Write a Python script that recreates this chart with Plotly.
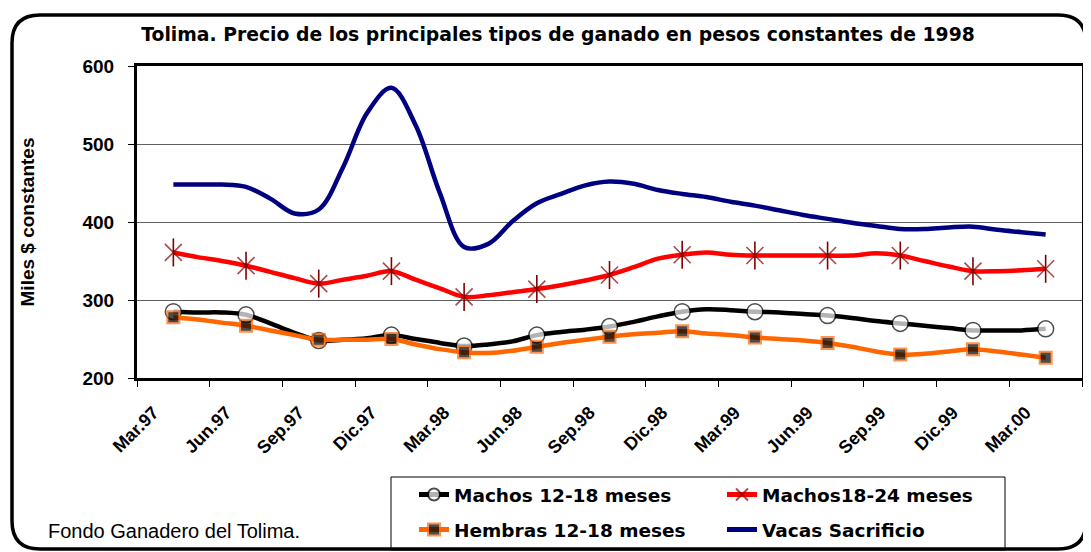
import plotly.graph_objects as go

# ---------------- data (monthly, Mar.97 = index 0 ... Mar.00 = index 36) ----------------
months = list(range(37))
quarter_labels = ["Mar.97", "Jun.97", "Sep.97", "Dic.97", "Mar.98", "Jun.98", "Sep.98",
                  "Dic.98", "Mar.99", "Jun.99", "Sep.99", "Dic.99", "Mar.00"]

machos_12_18 = [285, 284, 284, 281, 270, 258, 248, 249, 251, 255, 250, 245, 241, 243, 247, 255,
                259, 262, 266, 272, 279, 285, 288, 287, 285, 284, 282, 280, 277, 273, 270, 267,
                264, 261, 261, 261, 263]
machos_18_24 = [361, 355, 350, 344, 336, 328, 321, 326, 331, 337, 326, 315, 304, 306, 310, 314,
                319, 325, 332, 342, 353, 358, 361, 358, 357, 357, 357, 357, 357, 360, 357, 350,
                343, 337, 337, 338, 340]
hembras_12_18 = [278, 275, 271, 267, 261, 255, 249, 249, 249, 250, 243, 237, 233, 232, 235, 240,
                 245, 249, 253, 256, 258, 260, 257, 255, 252, 250, 248, 245, 240, 234, 230, 231,
                 234, 237, 234, 230, 226]
vacas_sacrificio = [448, 448, 448, 445, 430, 411, 416, 470, 540, 572, 524, 437, 368, 372, 401, 424,
                    436, 447, 452, 449, 441, 436, 432, 426, 421, 415, 409, 404, 399, 395, 391, 391,
                    393, 394, 390, 387, 384]

# ---------------- layout helpers ----------------
OFF = 8                                   # page body margin of the browser
W, H = 1091 - OFF, 552 - OFF
SL, SR, ST, SB = 137, 1082, 66, 378       # plot area as seen on the page (px)


def px_x(p):
    return (p - SL) / (SR - SL)


def px_y(p):
    return (SB - p) / (SB - ST)


quarter_idx = [i for i in months if i % 3 == 0]
quarter_x = [months[i] for i in quarter_idx]
label_shift = 0.82                         # Excel-style rotated labels sit slightly left


def sizes(s):
    return [s if i % 3 == 0 else 0 for i in months]


BOLD_WIDE = "DejaVu Sans"
ARIAL = "Liberation Sans, Arial"

fig = go.Figure()

fig.add_trace(go.Scatter(
    x=months, y=vacas_sacrificio, name="Vacas Sacrificio", mode="lines",
    line=dict(color="#000080", width=4.5, shape="spline", smoothing=1),
    legend="legend2", legendrank=4))

fig.add_trace(go.Scatter(
    x=months, y=machos_18_24, name="Machos18-24 meses", mode="lines+markers",
    line=dict(color="#FF0000", width=4.5, shape="spline", smoothing=1),
    marker=dict(symbol="x-thin-open", size=sizes(17), color="#800000",
                line=dict(width=1.6, color="#800000")),
    legend="legend", legendrank=2))
fig.add_trace(go.Scatter(
    x=quarter_x, y=[machos_18_24[i] for i in quarter_idx], mode="markers",
    showlegend=False, hoverinfo="skip",
    marker=dict(symbol="line-ns-open", size=20, color="#800000",
                line=dict(width=1.6, color="#800000"))))

fig.add_trace(go.Scatter(
    x=months, y=machos_12_18, name="Machos 12-18 meses", mode="lines+markers",
    line=dict(color="#000000", width=4.5, shape="spline", smoothing=1),
    marker=dict(symbol="circle", size=sizes(16), color="#FFFFFF",
                line=dict(width=1.5, color="#000000")),
    legend="legend", legendrank=1))

fig.add_trace(go.Scatter(
    x=months, y=hembras_12_18, name="Hembras 12-18 meses", mode="lines+markers",
    line=dict(color="#FF6600", width=4.5, shape="spline", smoothing=1),
    marker=dict(symbol="square", size=sizes(12), color="#000000",
                line=dict(width=2, color="#FF6600")),
    legend="legend2", legendrank=3))

# outer rounded border
bl, br, bt, bb, rad = 12, 1086, 15, 549, 28
xs, ys = px_x, px_y
path = (f"M {xs(bl+rad)} {ys(bt)} L {xs(br-rad)} {ys(bt)} Q {xs(br)} {ys(bt)} {xs(br)} {ys(bt+rad)} "
        f"L {xs(br)} {ys(bb-rad)} Q {xs(br)} {ys(bb)} {xs(br-rad)} {ys(bb)} "
        f"L {xs(bl+rad)} {ys(bb)} Q {xs(bl)} {ys(bb)} {xs(bl)} {ys(bb-rad)} "
        f"L {xs(bl)} {ys(bt+rad)} Q {xs(bl)} {ys(bt)} {xs(bl+rad)} {ys(bt)} Z")

shapes = [
    dict(type="path", xref="paper", yref="paper", path=path,
         line=dict(color="black", width=3.5), fillcolor="rgba(0,0,0,0)"),
    dict(type="rect", xref="paper", yref="paper",
         x0=px_x(391), x1=px_x(1005), y0=px_y(477), y1=px_y(550),
         line=dict(color="black", width=1), fillcolor="rgba(0,0,0,0)"),
]

legend_common = dict(orientation="h", xanchor="left", yanchor="top",
                     bgcolor="rgba(0,0,0,0)", borderwidth=0,
                     font=dict(family=BOLD_WIDE, size=18.5, weight="bold", color="black"),
                     entrywidth=263, entrywidthmode="pixels", itemsizing="constant",
                     traceorder="normal")

fig.update_layout(
    width=W, height=H,
    margin=dict(l=SL - OFF, r=W - (SR - OFF), t=ST - OFF, b=H - (SB - OFF), pad=0,
                autoexpand=False),
    paper_bgcolor="white", plot_bgcolor="white",
    font=dict(family=ARIAL, color="black"),
    title=dict(text="Tolima. Precio de los principales tipos de ganado en pesos constantes de 1998",
               x=px_x(558), xref="paper", xanchor="center",
               y=1 - (34 - OFF) / H, yref="container", yanchor="middle",
               font=dict(family=BOLD_WIDE, size=18.8, weight="bold", color="black")),
    xaxis=dict(range=[-1.5, 37.5], tickmode="array", automargin=False,
               tickvals=[q - label_shift for q in quarter_x], ticktext=quarter_labels,
               tickangle=-45, ticks="", showgrid=False, zeroline=False,
               showline=True, linecolor="black", linewidth=3, mirror=True,
               ticklabelstandoff=14,
               tickfont=dict(family=ARIAL, size=18, weight="bold", color="black"),
               minor=dict(tickmode="linear", tick0=-1.5, dtick=3, ticks="outside",
                          ticklen=6, tickwidth=1, tickcolor="black", showgrid=False)),
    yaxis=dict(range=[200, 600], tickmode="linear", tick0=200, dtick=100, automargin=False,
               ticks="outside", ticklen=6, tickwidth=1, tickcolor="black",
               showgrid=True, gridcolor="#606060", gridwidth=1, zeroline=False,
               showline=True, linecolor="black", linewidth=3, mirror=True,
               ticklabelstandoff=10,
               tickfont=dict(family=ARIAL, size=19, weight="bold", color="black"),
               title=dict(text="Miles $ constantes", standoff=43,
                          font=dict(family=ARIAL, size=19, weight="bold", color="black"))),
    legend=dict(legend_common, x=px_x(414), y=px_y(476)),
    legend2=dict(legend_common, x=px_x(414), y=px_y(511)),
    shapes=shapes,
    annotations=[dict(text="Fondo Ganadero del Tolima.", xref="paper", yref="paper",
                      x=px_x(46), y=px_y(531), xanchor="left", yanchor="middle",
                      showarrow=False,
                      font=dict(family=ARIAL, size=20, color="black"))],
    showlegend=True,
)

fig.write_html("out.html")
